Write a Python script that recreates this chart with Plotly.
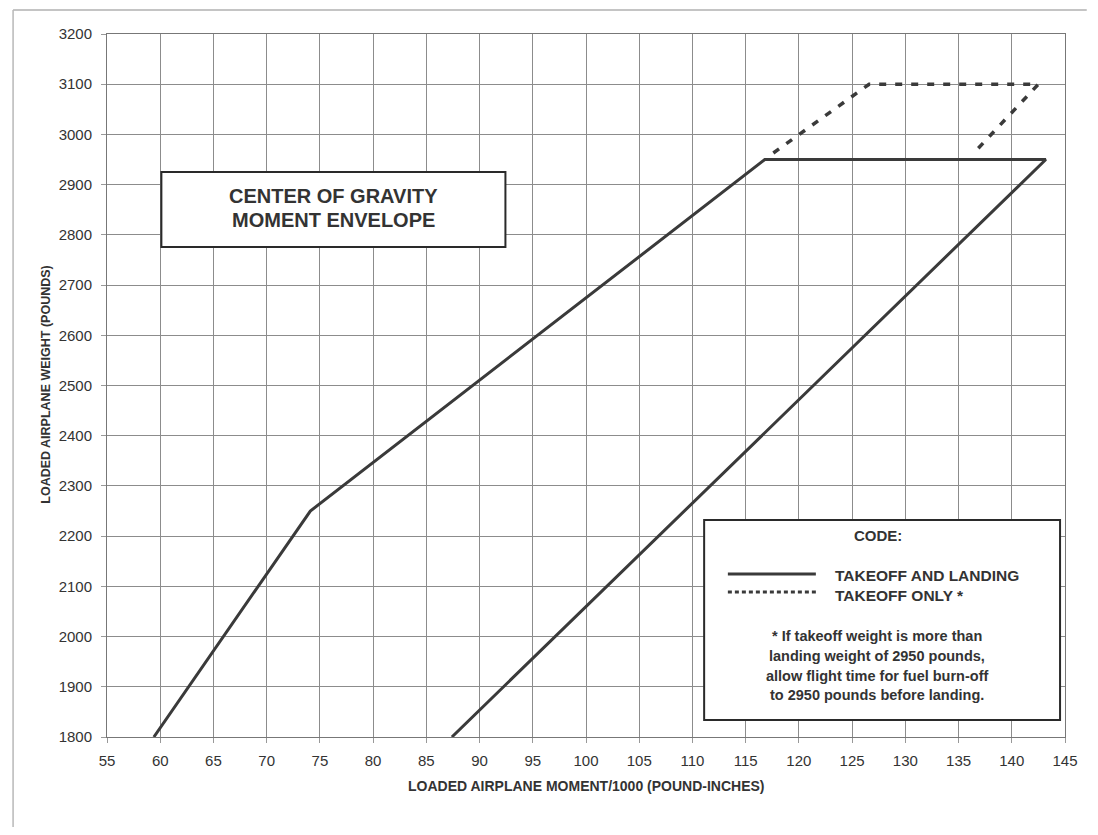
import plotly.graph_objects as go

# ---- data ----
envelope_moment = [59.4, 74.1, 116.8, 143.2, 87.4]
envelope_weight = [1800, 2250, 2950, 2950, 1800]

takeoff_only_moment = [117.6, 126.6, 142.5, 136.3]
takeoff_only_weight = [2963, 3100, 3100, 2960]

x_ticks = list(range(55, 150, 5))
y_ticks = list(range(1800, 3300, 100))

title_lines = ["CENTER OF GRAVITY", "MOMENT ENVELOPE"]
code_title = "CODE:"
code_items = ["TAKEOFF AND LANDING", "TAKEOFF ONLY *"]
note_lines = ["* If takeoff weight is more than",
              "landing weight of 2950 pounds,",
              "allow flight time for fuel burn-off",
              "to 2950 pounds before landing."]

# ---- layout geometry (page pixels; the page body adds an 8px margin) ----
OFF = 8
W, H = 1098 - 2 * OFF, 835 - 2 * OFF
X0, X1, Y0, Y1 = 107, 1076, 34, 737  # plot area in page pixels


def px(x):
    return (x - X0) / (X1 - X0)


def py(y):
    return (Y1 - y) / (Y1 - Y0)


FONT = "Liberation Sans, Arial, Helvetica, sans-serif"
INK = "#333333"
LINE = "#3a3a3a"

fig = go.Figure()
fig.add_trace(go.Scatter(x=envelope_moment, y=envelope_weight, mode="lines",
                         line=dict(color=LINE, width=3), hoverinfo="skip",
                         showlegend=False))
fig.add_trace(go.Scatter(x=takeoff_only_moment, y=takeoff_only_weight, mode="lines",
                         line=dict(color=LINE, width=3.5, dash="7px,9px"),
                         hoverinfo="skip", showlegend=False))

shapes = []
# page frame lines
shapes.append(dict(type="line", xref="paper", yref="paper", x0=px(12), x1=px(1098),
                   y0=py(10), y1=py(10), line=dict(color="#b0b0b0", width=1.5)))
shapes.append(dict(type="line", xref="paper", yref="paper", x0=px(12), x1=px(12),
                   y0=py(10), y1=py(835), line=dict(color="#b8b8b8", width=1.5)))
# title box
shapes.append(dict(type="rect", xref="paper", yref="paper", x0=px(162), x1=px(510),
                   y0=py(247), y1=py(172), fillcolor="white",
                   line=dict(color="#2a2a2a", width=2), layer="above"))
# code box
shapes.append(dict(type="rect", xref="paper", yref="paper", x0=px(711), x1=px(1071),
                   y0=py(720), y1=py(520), fillcolor="white",
                   line=dict(color="#2a2a2a", width=2), layer="above"))
# legend samples
shapes.append(dict(type="line", xref="paper", yref="paper", x0=px(735), x1=px(824),
                   y0=py(574), y1=py(574), line=dict(color=LINE, width=3), layer="above"))
shapes.append(dict(type="line", xref="paper", yref="paper", x0=px(735), x1=px(824),
                   y0=py(592), y1=py(592), line=dict(color=LINE, width=3, dash="4px,3px"),
                   layer="above"))

ann = []
for i, t in enumerate(title_lines):
    ann.append(dict(text=f"<b>{t}</b>", x=px(336), y=py(196 + 24 * i), xref="paper",
                    yref="paper", showarrow=False, xanchor="center", yanchor="middle",
                    font=dict(family=FONT, size=20, color=INK)))
ann.append(dict(text=f"<b>{code_title}</b>", x=px(887), y=py(535), xref="paper",
                yref="paper", showarrow=False, xanchor="center", yanchor="middle",
                font=dict(family=FONT, size=15, color=INK)))
for t, yy in zip(code_items, [575, 595]):
    ann.append(dict(text=f"<b>{t}</b>", x=px(841), y=py(yy), xref="paper", yref="paper",
                    showarrow=False, xanchor="left", yanchor="middle",
                    font=dict(family=FONT, size=15.5, color=INK)))
for t, yy in zip(note_lines, [636, 656, 676, 695]):
    ann.append(dict(text=f"<b>{t}</b>", x=px(886), y=py(yy), xref="paper", yref="paper",
                    showarrow=False, xanchor="center", yanchor="middle",
                    font=dict(family=FONT, size=14.5, color=INK)))
# axis titles
ann.append(dict(text="<b>LOADED AIRPLANE MOMENT/1000 (POUND-INCHES)</b>", x=px(592),
                y=py(786), xref="paper", yref="paper", showarrow=False,
                xanchor="center", yanchor="middle",
                font=dict(family=FONT, size=14, color=INK)))
ann.append(dict(text="<b>LOADED AIRPLANE WEIGHT (POUNDS)</b>", x=px(45),
                y=py(385), xref="paper", yref="paper", showarrow=False, textangle=-90,
                xanchor="center", yanchor="middle",
                font=dict(family=FONT, size=12.5, color=INK)))

fig.update_layout(
    width=W, height=H, autosize=False,
    margin=dict(l=X0 - OFF, r=(1098 - OFF) - X1, t=Y0 - OFF, b=(835 - OFF) - Y1),
    paper_bgcolor="white", plot_bgcolor="white",
    shapes=shapes, annotations=ann,
    font=dict(family=FONT, color=INK),
    xaxis=dict(range=[55, 145], tickvals=x_ticks, ticktext=[str(v) for v in x_ticks],
               showgrid=True, gridcolor="#8c8c8c", gridwidth=1, zeroline=False,
               showline=True, linecolor="#777777", linewidth=1, mirror=True,
               ticks="outside", ticklen=5, tickcolor="#999999",
               tickfont=dict(family=FONT, size=15, color=INK), ticklabelstandoff=5),
    yaxis=dict(range=[1800, 3200], tickvals=y_ticks, ticktext=[str(v) for v in y_ticks],
               showgrid=True, gridcolor="#8c8c8c", gridwidth=1, zeroline=False,
               showline=True, linecolor="#777777", linewidth=1, mirror=True,
               ticks="outside", ticklen=5, tickcolor="#999999",
               tickfont=dict(family=FONT, size=15, color=INK), ticklabelstandoff=6),
)

fig.write_html("out.html")
